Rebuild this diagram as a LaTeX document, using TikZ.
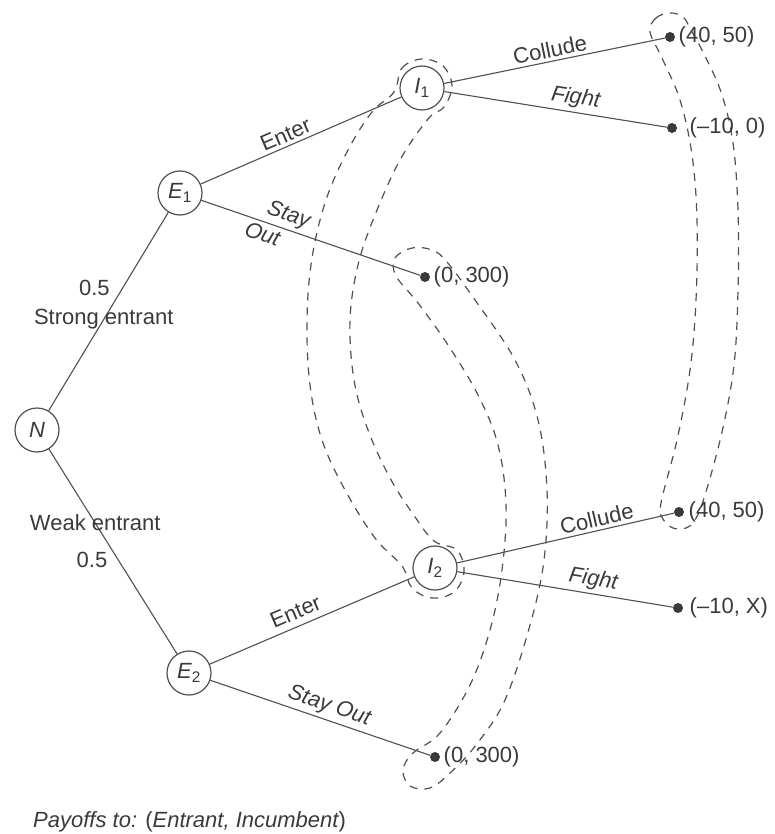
\documentclass[tikz,border=0pt]{standalone}
\usepackage{fontspec}
\setmainfont{Liberation Sans}
\usetikzlibrary{backgrounds}
\definecolor{ink}{RGB}{58,58,58}
\definecolor{wire}{RGB}{80,80,80}

\begin{document}
\begin{tikzpicture}[x=1pt,y=-1pt,
  every node/.style={font=\fontsize{22}{26}\selectfont, text=ink},
  decision/.style={circle, draw=wire, line width=1.2pt, fill=white,
    minimum size=44pt, inner sep=0pt},
  outcome/.style={circle, fill=ink, minimum size=10pt, inner sep=0pt},
  payoff/.style={anchor=west},
  branch/.style={draw=wire, line width=1.1pt},
  act/.style={sloped, above},
  infoset/.style={draw=wire, line width=1.2pt, dash pattern=on 8pt off 7pt}
]
\useasboundingbox (0,0) rectangle (775,834);

% decision nodes
\node[decision] (N)  at (37,430)  {\itshape N};
\node[decision] (E1) at (180,193) {{\itshape E}\textsubscript{1}};
\node[decision] (E2) at (189,673) {{\itshape E}\textsubscript{2}};
\node[decision] (I1) at (422,88)  {{\itshape I}\textsubscript{1}};
\node[decision] (I2) at (435,568) {{\itshape I}\textsubscript{2}};

% terminal nodes
\node[outcome] (c1) at (670,37)  {};
\node[outcome] (f1) at (672,128) {};
\node[outcome] (s1) at (425,277) {};
\node[outcome] (c2) at (679,512) {};
\node[outcome] (f2) at (678,608) {};
\node[outcome] (s2) at (435,757) {};

% payoffs
\node[payoff] (pc1) at (c1.east) {(40, 50)};
\node[payoff, xshift=9pt] (pf1) at (f1.east) {(--10, 0)};
\node[payoff] (ps1) at (s1.east) {(0, 300)};
\node[payoff, xshift=1pt] (pc2) at (c2.east) {(40, 50)};
\node[payoff, xshift=3pt] (pf2) at (f2.east) {(--10, X)};
\node[payoff] (ps2) at (s2.east) {(0, 300)};

% branches
\draw[branch] (N) -- node[pos=.46] {Strong entrant}
                     node[pos=.617, left, xshift=-9pt] {0.5} (E1);
\draw[branch] (N) -- node[pos=.361] {Weak entrant}
                     node[pos=.54, left, xshift=-7pt] {0.5} (E2);
\draw[branch] (E1) -- node[act, pos=.446] {Enter} (I1);
\draw[branch] (E1) -- node[act, pos=.378] {\itshape Stay}
                      node[sloped, below, pos=.297] {\itshape Out} (s1);
\draw[branch] (E2) -- node[act, pos=.447, yshift=3pt] {Enter} (I2);
\draw[branch] (E2) -- node[act, pos=.52] {\itshape Stay Out} (s2);
\draw[branch] (I1) -- node[act, pos=.49] {Collude} (c1);
\draw[branch] (I1) -- node[act, pos=.58] {\itshape Fight} (f1);
\draw[branch] (I2) -- node[act, pos=.656] {Collude} (c2);
\draw[branch] (I2) -- node[act, pos=.62] {\itshape Fight} (f2);

% information sets
\begin{scope}[on background layer]
% incumbent: I1 and I2
\draw[infoset] plot[smooth cycle, tension=0.6] coordinates {
  (394,92) (402,68) (422,59) (443,66) (452,86) (444,107) (428,119)
  (400,160) (375,215) (358,265) (350,320) (354,380) (368,430)
  (390,478) (413,514) (434,541)
  (457,550) (464,572) (454,592) (432,598) (412,588) (402,566)
  (375,538) (345,490) (322,440) (310,385) (307,320) (312,258)
  (326,200) (348,150) (372,112)};
% both (0, 300) outcomes
\draw[infoset] plot[smooth cycle, tension=0.6] coordinates {
  (396,276) (395,258) (412,248) (432,250) (447,262)
  (475,300) (515,360) (538,420) (547,490) (544,560) (530,625)
  (505,700) (476,745) (450,773)
  (430,788) (410,786) (403,770) (413,753)
  (440,733) (470,685) (490,630) (502,570) (506,505) (498,445)
  (478,395) (448,345) (418,303)};
% both (40, 50) outcomes
\draw[infoset] plot[smooth cycle, tension=0.6] coordinates {
  (650,32) (656,18) (670,13) (683,17) (691,30)
  (706,58) (722,95) (733,143) (738,210) (738,290) (734,365)
  (722,432) (705,495)
  (695,520) (686,528) (673,528) (663,519) (661,503)
  (677,440) (690,370) (696,300) (697,220) (692,155) (680,100)
  (662,58)};
\end{scope}

% key to the payoffs
\node[anchor=west, inner sep=0pt] (key) at (33,822)
  {\itshape Payoffs to: \upshape(\itshape Entrant, Incumbent\upshape)};
\end{tikzpicture}
\end{document}
